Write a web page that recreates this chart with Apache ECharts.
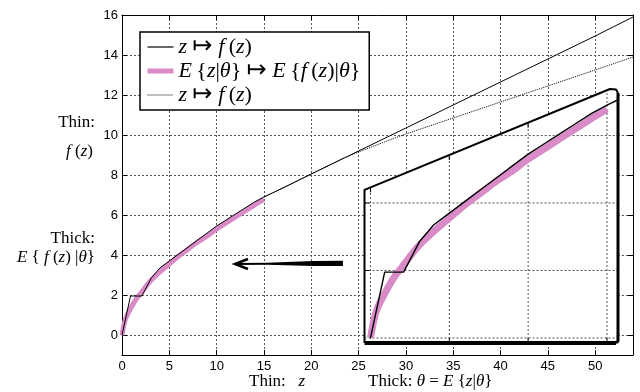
<!DOCTYPE html>
<html>
<head>
<meta charset="utf-8">
<script src="https://cdn.jsdelivr.net/npm/echarts@6/dist/echarts.min.js"></script>
<style>
  html, body { margin: 0; padding: 0; background: #fff; }
  #chart { width: 640px; height: 392px; }
</style>
</head>
<body>
<div id="chart"></div>
<script>
// ---- tick values ----
const xTicks = [0, 5, 10, 15, 20, 25, 30, 35, 40, 45, 50];
const yTicks = [0, 2, 4, 6, 8, 10, 12, 14, 16];
const insetZTicks = [0, 5, 10, 15];
const insetYTicks = [0, 2, 4, 6];

// ---- thin solid: z -> f(z) ----
const thinZ = [0, 0.9, 2.1, 3.1, 4, 5, 6, 7, 8, 9, 10, 11, 12, 13, 14, 15, 17, 20, 25, 30, 35, 40, 45, 50, 54];
const thinF = [0, 1.95, 1.95, 2.85, 3.35, 3.7, 4.05, 4.4, 4.75, 5.1, 5.45, 5.75, 6.05, 6.35, 6.65, 6.9, 7.35, 8.05, 9.2, 10.35, 11.5, 12.65, 13.8, 14.95, 15.9];

// ---- thin dotted: z -> f(z) ----
const dottedZ = [15, 17, 20, 23, 25, 28, 30, 35, 40, 45, 50, 54];
const dottedF = [6.9, 7.35, 8.05, 8.75, 9.15, 9.7, 10.05, 10.85, 11.65, 12.45, 13.25, 13.9];

// ---- thick: E{z|θ} -> E{f(z)|θ} ----
const thickTheta = [0, 0.25, 0.5, 1, 1.5, 2, 3, 4, 5, 6, 7, 8, 9, 10, 11, 12, 13, 14, 15];
const thickEF = [0, 0.6, 0.95, 1.4, 1.8, 2.1, 2.7, 3.15, 3.55, 3.95, 4.3, 4.65, 4.95, 5.3, 5.6, 5.9, 6.2, 6.5, 6.78];

// ---- arrow annotation (data units of the main axes) ----
const arrowTail = [23.35, 3.58];
const arrowTip = [11.94, 3.55];

const pair = (xs, ys) => xs.map((x, i) => [x, ys[i]]);

const PINK = '#d98bc8';
const SERIF = "'Liberation Serif','DejaVu Serif','Times New Roman',serif";
const SANS = "'Liberation Sans',Arial,Helvetica,sans-serif";
const GRID_LINE = { color: '#555', type: [2, 2], width: 1 };

// magnified panel: its axis extent and slanted top edge (panel units)
const PANEL = { z0: -0.38, z1: 15.7, y0: -0.15, y1: 7.38, topLeftY: 4.39, topRightZ: 15.19 };

function renderPanel(params, api) {
  const P = PANEL;
  const c = p => api.coord(p);
  const slantY = z => P.topLeftY + (z - P.z0) * (P.y1 - P.topLeftY) / (P.topRightZ - P.z0);
  const slantZ = y => P.z0 + (y - P.topLeftY) * (P.topRightZ - P.z0) / (P.y1 - P.topLeftY);
  const BL = c([P.z0, P.y0]), TL = c([P.z0, P.topLeftY]), TR = c([P.topRightZ, P.y1]);
  const BR = c([P.z1, P.y0]);
  const RC = [BR[0], TR[1] + 4];
  const kids = [];
  kids.push({ type: 'polygon', shape: { points: [BL, TL, TR, [RC[0] - 2, TR[1] + 0.5], RC, BR] }, style: { fill: '#fff' } });
  insetZTicks.forEach(z => {
    const a = c([z, P.y0]), b = c([z, slantY(z)]);
    kids.push({ type: 'line', shape: { x1: a[0], y1: a[1], x2: b[0], y2: b[1] }, style: { stroke: '#555', lineWidth: 1, lineDash: [2, 2] } });
  });
  insetYTicks.forEach(y => {
    const zs = y <= P.topLeftY ? P.z0 : slantZ(y);
    const a = c([zs, y]), b = c([P.z1, y]);
    kids.push({ type: 'line', shape: { x1: a[0], y1: a[1], x2: b[0], y2: b[1] }, style: { stroke: '#555', lineWidth: 1, lineDash: [2, 2] } });
  });
  // inward ticks
  [5, 10, 15].forEach(z => {
    const a = c([z, P.y0]);
    kids.push({ type: 'line', shape: { x1: a[0], y1: a[1], x2: a[0], y2: a[1] - 5 }, style: { stroke: '#000', lineWidth: 1 } });
  });
  [0, 5, 10].forEach(z => {
    const a = c([z, slantY(z)]);
    kids.push({ type: 'line', shape: { x1: a[0], y1: a[1], x2: a[0], y2: a[1] + 5 }, style: { stroke: '#000', lineWidth: 1 } });
  });
  [2, 4].forEach(y => {
    const a = c([P.z0, y]);
    kids.push({ type: 'line', shape: { x1: a[0], y1: a[1], x2: a[0] + 5, y2: a[1] }, style: { stroke: '#000', lineWidth: 1 } });
  });
  // frame
  kids.push({ type: 'polyline', shape: { points: [BL, TL, TR, [RC[0] - 2, TR[1] + 0.5], RC] }, style: { stroke: '#000', lineWidth: 2, fill: null, lineJoin: 'round' } });
  kids.push({ type: 'polyline', shape: { points: [RC, [BR[0], BR[1] - 2], [BR[0] - 2, BR[1]]] }, style: { stroke: '#000', lineWidth: 3, fill: null, lineJoin: 'round' } });
  kids.push({ type: 'line', shape: { x1: BL[0], y1: BL[1], x2: BR[0] - 2, y2: BR[1] }, style: { stroke: '#000', lineWidth: 4 } });
  return { type: 'group', children: kids };
}

function renderArrow(params, api) {
  const a = api.coord(arrowTail), b = api.coord(arrowTip);
  const len = a[0] - b[0];
  const m = [b[0] + len * 0.72, b[1] + (a[1] - b[1]) * 0.72];
  const q = [b[0] + len * 0.3, b[1] + (a[1] - b[1]) * 0.3];
  const body = [
    [b[0] + 2, b[1] - 1], [q[0], q[1] - 1], [m[0], m[1] - 2.5], [a[0], a[1] - 2.6],
    [a[0], a[1] + 2.6], [m[0], m[1] + 2.5], [q[0], q[1] + 1], [b[0] + 2, b[1] + 1]
  ];
  return {
    type: 'group',
    children: [
      { type: 'polygon', shape: { points: body }, style: { fill: '#000' } },
      { type: 'polyline', shape: { points: [[b[0] + 13, b[1] - 5], b, [b[0] + 13, b[1] + 5]] }, style: { stroke: '#000', lineWidth: 2.5, fill: null } }
    ]
  };
}

const legendText = {
  thin: '{i|z} {a|↦} {i|f}\u2009({i|z})',
  thick: '{i|E}\u2009{{i|z}|{i|θ}} {a|↦} {i|E}\u2009{{i|f}\u2009({i|z})|{i|θ}}',
  dotted: '{i|z} {a|↦} {i|f}\u2009({i|z})'
};

const LEG_SIZE = 22;
const legendRich = {
  i: { fontFamily: SERIF, fontStyle: 'italic', fontSize: LEG_SIZE, color: '#000' },
  a: { fontFamily: "'DejaVu Sans',sans-serif", fontSize: 24, color: '#000' }
};

function txt(text, x, y, align, size) {
  return {
    type: 'text', z: 100,
    style: {
      text, x, y, fill: '#000', align, verticalAlign: 'middle',
      fontFamily: SERIF, fontSize: size,
      rich: { i: { fontFamily: SERIF, fontStyle: 'italic', fontSize: size, fill: '#000' } }
    }
  };
}

const chart = echarts.init(document.getElementById('chart'), null, { renderer: 'canvas' });

const axisLine = { show: true, onZero: false, lineStyle: { color: '#000', width: 1 } };
const tickStyle = { color: '#000', width: 1 };

chart.setOption({
  animation: false,
  backgroundColor: '#fff',
  grid: [
    { left: 122, top: 15, width: 511, height: 340, outerBoundsMode: 'none' },
    { left: 364.5, top: 89, width: 253.5, height: 254, outerBoundsMode: 'none' }
  ],
  xAxis: [
    {
      gridIndex: 0, type: 'value', min: 0, max: 54, position: 'bottom',
      axisLine,
      axisTick: { show: true, inside: true, length: 5, customValues: xTicks, lineStyle: tickStyle },
      axisLabel: { customValues: xTicks, color: '#000', fontFamily: SANS, fontSize: 13, margin: 5 },
      splitLine: { show: true, lineStyle: GRID_LINE }
    },
    {
      gridIndex: 0, type: 'value', min: 0, max: 54, position: 'top',
      axisLine,
      axisTick: { show: true, inside: true, length: 5, customValues: xTicks, lineStyle: tickStyle },
      axisLabel: { show: false },
      splitLine: { show: false }
    },
    { gridIndex: 1, type: 'value', min: PANEL.z0, max: PANEL.z1, show: false }
  ],
  yAxis: [
    {
      gridIndex: 0, type: 'value', min: -1, max: 16, position: 'left',
      axisLine,
      axisTick: { show: true, inside: true, length: 5, customValues: yTicks, lineStyle: tickStyle },
      axisLabel: { customValues: yTicks, color: '#000', fontFamily: SANS, fontSize: 13, margin: 4 },
      splitLine: { show: true, lineStyle: GRID_LINE }
    },
    {
      gridIndex: 0, type: 'value', min: -1, max: 16, position: 'right',
      axisLine,
      axisTick: { show: true, inside: true, length: 5, customValues: yTicks, lineStyle: tickStyle },
      axisLabel: { show: false },
      splitLine: { show: false }
    },
    { gridIndex: 1, type: 'value', min: PANEL.y0, max: PANEL.y1, show: false }
  ],
  legend: {
    left: 140, top: 32, orient: 'vertical',
    itemWidth: 26, itemHeight: 10, itemGap: 0,
    padding: [3, 9, 3, 5],
    backgroundColor: '#fff', borderColor: '#000', borderWidth: 1.5,
    itemStyle: { opacity: 0 },
    data: [
      { name: 'thin', lineStyle: { width: 1.2, opacity: 1, color: '#000' } },
      { name: 'thick', lineStyle: { width: 5, opacity: 1, color: PINK } },
      { name: 'dotted', lineStyle: { width: 1.2, opacity: 1, color: '#000', type: [1, 1] } }
    ],
    formatter: n => legendText[n],
    textStyle: { fontFamily: SERIF, fontSize: LEG_SIZE, color: '#000', lineHeight: 23, rich: legendRich }
  },
  series: [
    {
      name: 'thick', type: 'line', xAxisIndex: 0, yAxisIndex: 0,
      data: pair(thickTheta, thickEF), symbol: 'none', smooth: 0.3, z: 2,
      lineStyle: { color: PINK, width: 5 }, itemStyle: { color: PINK }
    },
    {
      name: 'thin', type: 'line', xAxisIndex: 0, yAxisIndex: 0,
      data: pair(thinZ, thinF), symbol: 'none', z: 3,
      lineStyle: { color: '#000', width: 1 }, itemStyle: { color: '#000' }
    },
    {
      name: 'dotted', type: 'line', xAxisIndex: 0, yAxisIndex: 0,
      data: pair(dottedZ, dottedF), symbol: 'none', z: 3,
      lineStyle: { color: '#000', width: 1, type: [1, 1] }, itemStyle: { color: '#000' }
    },
    {
      type: 'custom', xAxisIndex: 2, yAxisIndex: 2, z: 4, silent: true,
      data: [[0, 0]], renderItem: renderPanel
    },
    {
      type: 'line', xAxisIndex: 2, yAxisIndex: 2,
      data: pair(thickTheta, thickEF), symbol: 'none', smooth: 0.3, z: 5, clip: true,
      lineStyle: { color: PINK, width: 7 }
    },
    {
      type: 'line', xAxisIndex: 2, yAxisIndex: 2,
      data: pair(thinZ, thinF), symbol: 'none', z: 6, clip: true,
      lineStyle: { color: '#000', width: 1.4 }
    },
    {
      type: 'custom', xAxisIndex: 0, yAxisIndex: 0, z: 6, silent: true,
      data: [[0, 0]], renderItem: renderArrow
    }
  ],
  graphic: [
    txt('Thin:', 95, 123, 'right', 17),
    txt('{i|f} ({i|z})', 93, 152, 'right', 17),
    txt('Thick:', 95, 239, 'right', 17),
    txt('{i|E} { {i|f} ({i|z}) |{i|θ}}', 95, 258, 'right', 17),
    txt('Thin:   {i|z}', 249, 382, 'left', 17),
    txt('Thick: {i|θ} = {i|E} {{i|z}|{i|θ}}', 368, 382, 'left', 17)
  ]
});
</script>
</body>
</html>
